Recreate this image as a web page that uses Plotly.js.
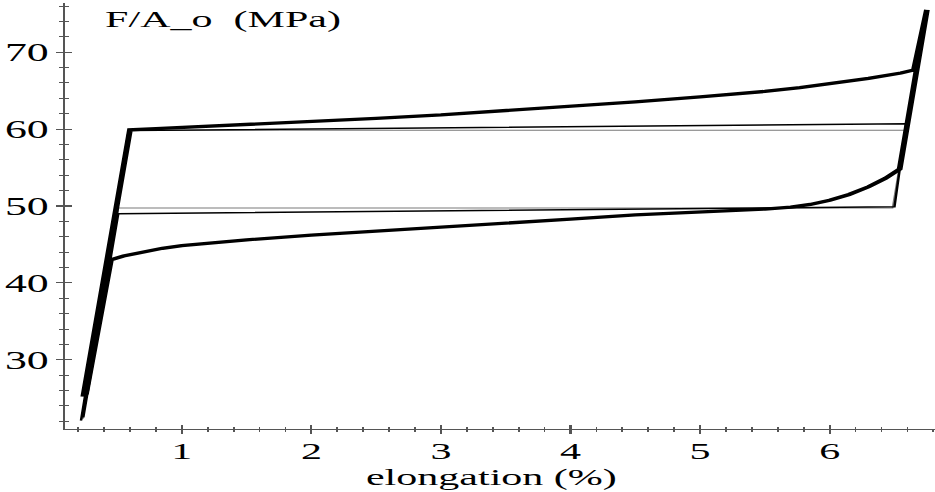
<!DOCTYPE html>
<html>
<head>
<meta charset="utf-8">
<script src="https://cdn.plot.ly/plotly-3.0.1.min.js"></script>
<style>
  html, body { margin: 0; padding: 0; background: #fff; overflow: hidden; }
  #chart { width: 534px; height: 492px; transform: scaleX(1.751); transform-origin: 0 0; }
</style>
</head>
<body>
<div id="chart"></div>
<script>
// Nonlinear hardening model (thick line): loading ramp, hardening, reload, unloading, reverse
const thickX = [0.24, 0.60, 0.8, 1.0, 1.5, 2.0, 2.5, 3.0, 3.5, 4.0, 4.5, 5.0, 5.5, 5.77, 6.0, 6.3, 6.55, 6.65, 6.75,
                6.54, 6.43, 6.3, 6.15, 6.0, 5.85, 5.7, 5.5, 5.0, 4.5, 4.0, 3.5, 3.0, 2.5, 2.0, 1.5, 1.0, 0.85, 0.7, 0.55, 0.453, 0.26];
const thickY = [25.2, 59.9, 60.05, 60.2, 60.6, 61.0, 61.4, 61.85, 62.4, 62.95, 63.55, 64.2, 64.9, 65.4, 65.9, 66.6, 67.3, 67.7, 75.5,
                54.8, 53.6, 52.5, 51.5, 50.75, 50.2, 49.85, 49.6, 49.25, 48.85, 48.3, 47.8, 47.3, 46.8, 46.2, 45.6, 44.85, 44.5, 44.05, 43.5, 43.0, 25.5];

// Linear hardening model (thin black line)
const thinX = [0.222, 0.59, 6.59, 6.50, 0.51, 0.24];
const thinY = [22.1, 59.8, 60.7, 49.9, 49.0, 22.5];

// Elastic-perfectly plastic model (thin grey line)
const greyX = [0.225, 0.595, 6.585, 6.485, 0.51, 0.235];
const greyY = [22.1, 59.85, 59.85, 49.75, 49.75, 22.3];

const xTickVals = [1, 2, 3, 4, 5, 6];
const yTickVals = [30, 40, 50, 60, 70];

const xRange = [0.097, 6.813];
const yRange = [21.0, 76.4];

const axCol = '#555';
const serif = 'Liberation Serif, Times New Roman, serif';

const traces = [
  {x: greyX, y: greyY, mode: 'lines', line: {color: '#7a7a7a', width: 1}, xaxis: 'x', yaxis: 'y', hoverinfo: 'skip'},
  {x: thinX, y: thinY, mode: 'lines', line: {color: '#000', width: 1.4}, xaxis: 'x', yaxis: 'y', hoverinfo: 'skip'},
  {x: thickX, y: thickY, mode: 'lines', line: {color: '#000', width: 3.3}, xaxis: 'x2', yaxis: 'y2', hoverinfo: 'skip'}
];

const layout = {
  width: 534, height: 492,
  margin: {l: 37, r: 0, t: 3, b: 63},
  paper_bgcolor: '#fff', plot_bgcolor: 'rgba(0,0,0,0)',
  showlegend: false,
  title: {
    text: 'F/A_o  (MPa)',
    font: {family: serif, size: 24, color: '#000'},
    x: 0.1124, xanchor: 'left', xref: 'container',
    y: 0.9614, yanchor: 'middle', yref: 'container'
  },
  xaxis: {
    range: xRange, showline: true, linecolor: axCol, linewidth: 1.2,
    ticks: 'inside', ticklen: 4, tickwidth: 1.2, tickcolor: axCol,
    tickmode: 'array', tickvals: xTickVals, ticktext: xTickVals.map(String),
    tickfont: {family: serif, size: 24, color: '#000'}, ticklabelstandoff: 0,
    minor: {dtick: 0.2, tick0: 0, ticks: 'inside', ticklen: 2, tickwidth: 1, tickcolor: axCol},
    showgrid: false, zeroline: false, anchor: 'y', fixedrange: true
  },
  yaxis: {
    range: yRange, showline: true, linecolor: axCol, linewidth: 1.2,
    ticks: 'inside', ticklen: 4, tickwidth: 1.2, tickcolor: axCol,
    tickmode: 'array', tickvals: yTickVals, ticktext: yTickVals.map(String),
    tickfont: {family: serif, size: 25, color: '#000'}, ticklabelstandoff: 3,
    minor: {dtick: 2, tick0: 0, ticks: 'inside', ticklen: 2.3, tickwidth: 1, tickcolor: axCol},
    showgrid: false, zeroline: false, anchor: 'x', fixedrange: true
  },
  xaxis2: {
    range: xRange, overlaying: 'x', anchor: 'y2', side: 'bottom', showline: false,
    ticks: 'outside', ticklen: 4, tickwidth: 1.2, tickcolor: axCol,
    tickmode: 'array', tickvals: xTickVals, showticklabels: false,
    minor: {dtick: 0.2, tick0: 0, ticks: 'outside', ticklen: 2, tickwidth: 1, tickcolor: axCol},
    showgrid: false, zeroline: false, fixedrange: true
  },
  yaxis2: {
    range: yRange, overlaying: 'y', anchor: 'x2', side: 'left', showline: false,
    ticks: 'outside', ticklen: 4, tickwidth: 1.2, tickcolor: axCol,
    tickmode: 'array', tickvals: yTickVals, showticklabels: false,
    minor: {dtick: 2, tick0: 0, ticks: 'outside', ticklen: 2.3, tickwidth: 1, tickcolor: axCol},
    showgrid: false, zeroline: false, fixedrange: true
  },
  annotations: [{
    text: 'elongation (%)', xref: 'paper', yref: 'paper',
    x: 0.4907, xanchor: 'center', y: -0.148, yanchor: 'bottom',
    showarrow: false,
    font: {family: serif, size: 24, color: '#000'}
  }]
};

Plotly.newPlot('chart', traces, layout, {staticPlot: true, displayModeBar: false});
</script>
</body>
</html>
